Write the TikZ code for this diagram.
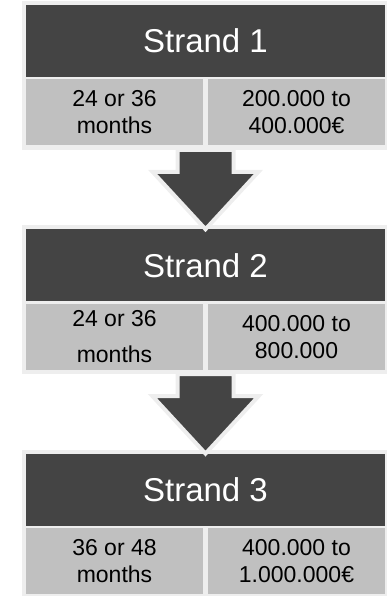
\documentclass[tikz,border=0pt]{standalone}
\usepackage{fontspec}
\setmainfont{Liberation Sans}
\usepackage{xcolor}
\usetikzlibrary{positioning,calc,fit,backgrounds}

\definecolor{darkbar}{HTML}{444444}
\definecolor{cellgrey}{HTML}{C0C0C0}
\definecolor{edgegrey}{HTML}{EEEEEE}

\begin{document}
\begin{tikzpicture}[
    head/.style={rectangle, fill=darkbar, text=white, align=center,
      minimum width=359pt, minimum height=72pt, inner sep=0pt,
      font=\fontsize{33pt}{40pt}\selectfont},
    cell/.style={rectangle, fill=cellgrey, text=black, align=center,
      minimum width=177pt, minimum height=66pt, inner sep=0pt,
      font=\fontsize{23pt}{27pt}\selectfont},
    frame/.style={rectangle, fill=edgegrey, inner sep=4pt},
    fatarrow/.style={fill=darkbar, draw=edgegrey, line width=4pt, line join=miter}
  ]
    \useasboundingbox (0,0) rectangle (386pt,-596pt);

    \node[head] (h1) at (205.5pt,-41pt) {Strand 1};
    \node[cell, anchor=north west] (m1) at ([yshift=-2pt]h1.south west) {24 or 36\\months};
    \node[cell, anchor=north east] (e1) at ([yshift=-2pt]h1.south east) {200.000 to\\400.000€};

    \node[head, below=152pt of h1] (h2) {Strand 2};
    \node[cell, anchor=north west] (m2) at ([yshift=-2pt]h2.south west) {24 or 36\\[9pt]months};
    \node[cell, anchor=north east] (e2) at ([yshift=-2pt]h2.south east) {400.000 to\\800.000};

    \node[head, below=152pt of h2] (h3) {Strand 3};
    \node[cell, anchor=north west] (m3) at ([yshift=-2pt]h3.south west) {36 or 48\\months};
    \node[cell, anchor=north east] (e3) at ([yshift=-2pt]h3.south east) {400.000 to\\1.000.000€};

    \begin{scope}[on background layer]
      \node[frame, fit=(h1)(m1)(e1)] (f1) {};
      \node[frame, fit=(h2)(m2)(e2)] (f2) {};
      \node[frame, fit=(h3)(m3)(e3)] (f3) {};
    \end{scope}

    % block arrows between strands
    \draw[fatarrow] ($(f1.south)+(-28pt,0)$) -- ++(0,-22pt) -- ++(-25pt,0) -- (h2.north)
      -- ($(f1.south)+(53pt,-22pt)$) -- ++(-25pt,0) -- ++(0,22pt) -- cycle;
    \draw[fatarrow] ($(f2.south)+(-28pt,0)$) -- ++(0,-22pt) -- ++(-25pt,0) -- (h3.north)
      -- ($(f2.south)+(53pt,-22pt)$) -- ++(-25pt,0) -- ++(0,22pt) -- cycle;
  \end{tikzpicture}
\end{document}
